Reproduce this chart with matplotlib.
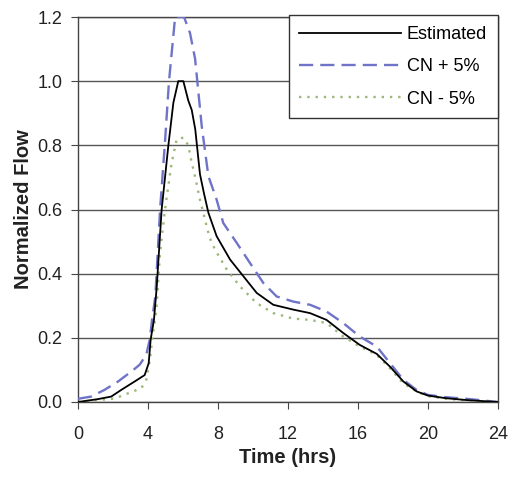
import matplotlib
matplotlib.use("Agg")
import matplotlib.pyplot as plt

plt.rcParams['font.family'] = ['Liberation Sans', 'DejaVu Sans']

# Estimated (black solid)
t_est = [0, 1.14, 1.9, 2.48, 3.24, 3.81, 4.04, 4.15, 4.34, 4.5, 4.78, 5.16, 5.45, 5.73, 6.02,
         6.3, 6.5, 6.7, 6.97, 7.2, 7.45, 7.92, 8.69, 9.45, 10.21, 11.16, 12.3, 13.26, 14.2,
         15.16, 16.1, 17.07, 17.83, 18.59, 19.35, 20.0, 21.0, 22.2, 24]
v_est = [0.0, 0.009, 0.017, 0.038, 0.064, 0.084, 0.121, 0.194, 0.256, 0.36, 0.60, 0.798, 0.933, 1.0, 1.0,
         0.94, 0.91, 0.85, 0.71, 0.65, 0.59, 0.517, 0.444, 0.392, 0.34, 0.303, 0.288, 0.277, 0.256,
         0.215, 0.178, 0.150, 0.110, 0.064, 0.033, 0.02, 0.012, 0.006, 0.0]

# CN + 5% (blue dashed)
t_plus = [0, 0.76, 1.52, 2.29, 3.05, 3.52, 3.9, 4.1, 4.23, 4.42, 4.69, 4.97, 5.2, 5.55, 6.06,
          6.4, 6.69, 7.07, 7.45, 7.92, 8.3, 9.07, 9.83, 10.59, 11.35, 12.3, 13.26, 14.2,
          15.16, 16.1, 17.07, 17.83, 18.59, 19.35, 20.0, 21.0, 22.2, 24]
v_plus = [0.01, 0.017, 0.038, 0.064, 0.095, 0.116, 0.147, 0.194, 0.256, 0.33, 0.60, 0.81, 1.0, 1.2, 1.2,
          1.15, 1.07, 0.86, 0.704, 0.631, 0.558, 0.496, 0.433, 0.371, 0.329, 0.313, 0.303, 0.282,
          0.246, 0.204, 0.173, 0.121, 0.069, 0.0375, 0.022, 0.015, 0.01, 0.0]

# CN - 5% (green dotted)
t_minus = [0, 1.14, 2.1, 2.86, 3.62, 3.9, 4.1, 4.29, 4.48, 4.69, 4.97, 5.16, 5.35, 5.64, 6.02,
           6.3, 6.5, 6.7, 6.97, 7.16, 7.35, 7.54, 7.83, 8.5, 9.26, 10.21, 11.16, 12.3, 13.26, 14.2,
           15.16, 16.1, 17.07, 17.83, 18.59, 19.35, 20.0, 21.0, 22.2, 24]
v_minus = [0.0, 0.006, 0.011, 0.027, 0.043, 0.069, 0.13, 0.215, 0.29, 0.466, 0.60, 0.673, 0.745, 0.819, 0.824,
           0.80, 0.746, 0.70, 0.63, 0.59, 0.548, 0.51, 0.475, 0.413, 0.36, 0.308, 0.277, 0.26, 0.256, 0.246,
           0.204, 0.173, 0.147, 0.105, 0.058, 0.033, 0.018, 0.01, 0.005, 0.0]

labels = ["Estimated", "CN + 5%", "CN - 5%"]
x_ticks = [0, 4, 8, 12, 16, 20, 24]
y_ticks = [0.0, 0.2, 0.4, 0.6, 0.8, 1.0, 1.2]

fig = plt.figure(figsize=(5.12, 4.78), dpi=100)
ax = fig.add_axes([78/512, 1-402/478, 420/512, 385/478])

ax.plot(t_est, v_est, color='black', lw=1.3, label=labels[0], zorder=4)
ax.plot(t_plus, v_plus, color='#6f74c8', lw=1.7, ls=(0, (6, 3)), label=labels[1], zorder=3)
ax.plot(t_minus, v_minus, color='#9cb87a', lw=1.7, ls=(0, (1, 2.5)), label=labels[2], zorder=3)

ax.set_xlim(0, 24)
ax.set_ylim(0, 1.2)
ax.set_xticks(x_ticks)
ax.set_xticklabels([str(x) for x in x_ticks])
ax.set_yticks(y_ticks)
ax.set_yticklabels([f"{y:.1f}" for y in y_ticks])
ax.yaxis.grid(True, color='#555555', lw=1.0)
ax.set_axisbelow(True)
for s in ax.spines.values():
    s.set_color('#444444')
    s.set_linewidth(1.0)
ax.tick_params(axis='both', direction='out', length=5, color='#444444', labelsize=13, colors='#222222')
ax.tick_params(axis='y', pad=6)
ax.tick_params(axis='x', pad=12)

ax.set_xlabel("Time (hrs)", fontsize=14.5, fontweight='bold', color='#222222', labelpad=4)
ax.set_ylabel("Normalized Flow", fontsize=14.5, fontweight='bold', color='#222222', labelpad=3)

leg = ax.legend(loc='upper right', bbox_to_anchor=(1.0, 1.005), borderaxespad=0, fancybox=False,
                frameon=True, fontsize=13, handlelength=5.6, handletextpad=0.35,
                labelspacing=0.85, borderpad=0.6)
leg.get_frame().set_edgecolor('#333333')
leg.get_frame().set_linewidth(1.0)
leg.get_frame().set_alpha(1.0)

fig.savefig("out.png", dpi=100)
